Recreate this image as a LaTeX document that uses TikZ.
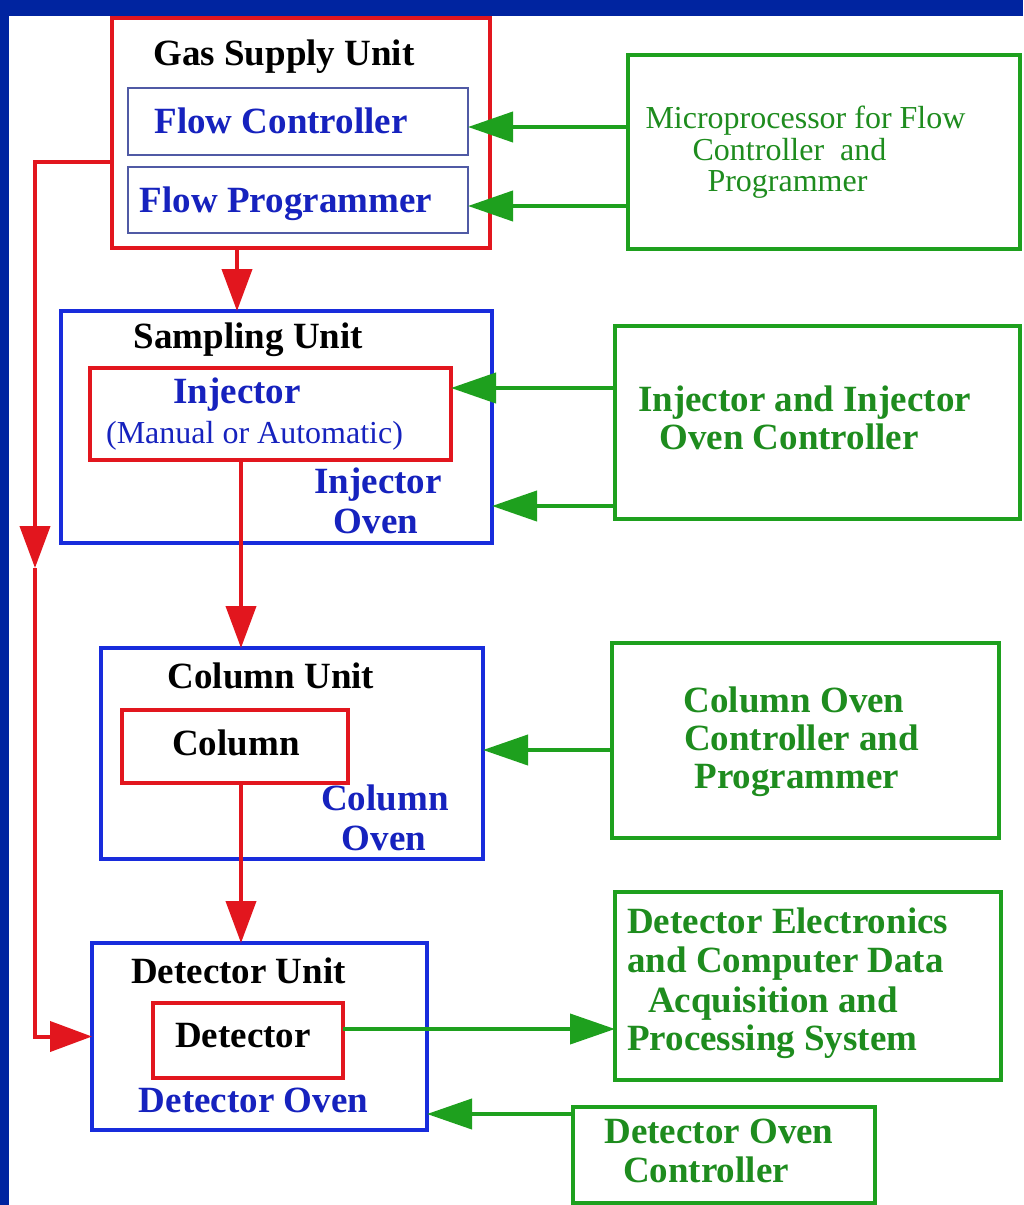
\documentclass[tikz,border=0pt]{standalone}
\usepackage{fontspec}
\setmainfont{Liberation Serif}
\usetikzlibrary{arrows.meta}
\definecolor{bandblue}{RGB}{0,36,160}
\definecolor{redc}{RGB}{226,22,30}
\definecolor{boxblue}{RGB}{24,44,220}
\definecolor{txtblue}{RGB}{22,34,190}
\definecolor{boxgreen}{RGB}{30,160,30}
\definecolor{txtgreen}{RGB}{30,140,30}
\definecolor{slate}{RGB}{80,90,165}
\begin{document}
\begin{tikzpicture}[x=1pt,y=-1pt,
  box/.style={inner sep=0pt,outer sep=0pt,anchor=north west,line width=4pt},
  redbox/.style={box,draw=redc},
  bluebox/.style={box,draw=boxblue},
  greenbox/.style={box,draw=boxgreen},
  subbox/.style={box,draw=slate,line width=1.8pt},
  bt/.style={font=\bfseries\fontsize{37}{39}\selectfont,inner sep=0pt,anchor=base},
  rt/.style={font=\fontsize{32}{32}\selectfont,inner sep=0pt,anchor=base},
  redarrow/.style={draw=redc,line width=4pt,-{Triangle[length=42pt,width=30pt]}},
  redline/.style={draw=redc,line width=4pt},
  greenarrow/.style={draw=boxgreen,line width=4pt,-{Triangle[length=45pt,width=30pt]}}]
\useasboundingbox (0,0) rectangle (1023,1205);
\fill[white] (0,0) rectangle (1023,1205);

% boxes
\node[redbox,minimum width=378pt,minimum height=230pt] (gas) at (112,18) {};
\node[subbox,minimum width=340pt,minimum height=67pt] (fc) at (128,88) {};
\node[subbox,minimum width=340pt,minimum height=66pt] (fp) at (128,167) {};
\node[greenbox,minimum width=392pt,minimum height=194pt] (micro) at (628,55) {};

\node[bluebox,minimum width=431pt,minimum height=232pt] (samp) at (61,311) {};
\node[redbox,minimum width=361pt,minimum height=92pt] (inj) at (90,368) {};
\node[greenbox,minimum width=405pt,minimum height=193pt] (ictl) at (615,326) {};

\node[bluebox,minimum width=382pt,minimum height=211pt] (col) at (101,648) {};
\node[redbox,minimum width=226pt,minimum height=73pt] (column) at (122,710) {};
\node[greenbox,minimum width=387pt,minimum height=195pt] (cctl) at (612,643) {};

\node[bluebox,minimum width=335pt,minimum height=187pt] (detU) at (92,943) {};
\node[redbox,minimum width=190pt,minimum height=75pt] (det) at (153,1003) {};
\node[greenbox,minimum width=386pt,minimum height=188pt] (detel) at (615,892) {};
\node[greenbox,minimum width=302pt,minimum height=96pt] (doc) at (573,1107) {};

% texts
\node[bt,black] (tgas) at (284,65) {Gas Supply Unit};
\node[bt,txtblue] (tfc) at (281,133) {Flow Controller};
\node[bt,txtblue] (tfp) at (286,212) {Flow Programmer};
\node[rt,txtgreen] (tm1) at (805.5,128) {Microprocessor for Flow};
\node[rt,txtgreen] (tm2) at (789.5,160) {Controller\ \ and};
\node[rt,txtgreen] (tm3) at (787.5,191) {Programmer};

\node[bt,black] (tsamp) at (248.5,348) {Sampling Unit};
\node[bt,txtblue] (tinj) at (237,403) {Injector};
\node[rt,txtblue] (tman) at (254.5,443) {(Manual or Automatic)};
\node[bt,txtblue] (tio1) at (378,493) {Injector};
\node[bt,txtblue] (tio2) at (376,533) {Oven};
\node[bt,txtgreen] (tic1) at (804.5,411) {Injector and Injector};
\node[bt,txtgreen] (tic2) at (789,449) {Oven Controller};

\node[bt,black] (tcol) at (271,688) {Column Unit};
\node[bt,black] (tcolumn) at (236,755) {Column};
\node[bt,txtblue] (tco1) at (385,810) {Column};
\node[bt,txtblue] (tco2) at (384,850) {Oven};
\node[bt,txtgreen] (tcc1) at (794,712) {Column Oven};
\node[bt,txtgreen] (tcc2) at (801.5,750) {Controller and};
\node[bt,txtgreen] (tcc3) at (797,788) {Programmer};

\node[bt,black] (tdetU) at (238.5,983) {Detector Unit};
\node[bt,black] (tdet) at (243,1047) {Detector};
\node[bt,txtblue] (tdov) at (253.5,1112) {Detector Oven};
\node[bt,txtgreen,anchor=base west] (te1) at (627,933) {Detector Electronics};
\node[bt,txtgreen,anchor=base west] (te2) at (627,972) {and Computer Data};
\node[bt,txtgreen,anchor=base west] (te3) at (648,1012) {Acquisition and};
\node[bt,txtgreen,anchor=base west] (te4) at (627,1050) {Processing System};
\node[bt,txtgreen] (tdc1) at (719,1143) {Detector Oven};
\node[bt,txtgreen] (tdc2) at (706,1182) {Controller};

% helper coordinates
\coordinate (xa) at (237,0);
\coordinate (xb) at (241,0);
\coordinate (lt) at (35,162);
\coordinate (lm) at (35,568);
\coordinate (g1) at (0,127);
\coordinate (g2) at (0,206);
\coordinate (g3) at (0,388);
\coordinate (g4) at (0,506);
\coordinate (g5) at (0,750);
\coordinate (g6) at (0,1029);
\coordinate (g7) at (0,1114);

% red flow
\draw[redarrow] (gas.south -| xa) -- (samp.north -| xa);
\draw[redarrow] (inj.south -| xb) -- (col.north -| xb);
\draw[redarrow] (column.south -| xb) -- (detU.north -| xb);
\draw[redarrow] (gas.west |- lt) -- (lt) -- (lm);
\draw[redarrow] (lm) -- (lt |- detU.west) -- (detU.west);

% green control
\draw[greenarrow] (micro.west |- g1) -- (fc.east |- g1);
\draw[greenarrow] (micro.west |- g2) -- (fp.east |- g2);
\draw[greenarrow] (ictl.west |- g3) -- (inj.east |- g3);
\draw[greenarrow] (ictl.west |- g4) -- (samp.east |- g4);
\draw[greenarrow] (cctl.west |- g5) -- (col.east |- g5);
\draw[greenarrow] (det.east |- g6) -- (detel.west |- g6);
\draw[greenarrow] (doc.west |- g7) -- (detU.east |- g7);

% frame bands
\fill[bandblue] (0,0) rectangle (1023,16);
\fill[bandblue] (0,0) rectangle (9,1205);
\end{tikzpicture}
\end{document}
